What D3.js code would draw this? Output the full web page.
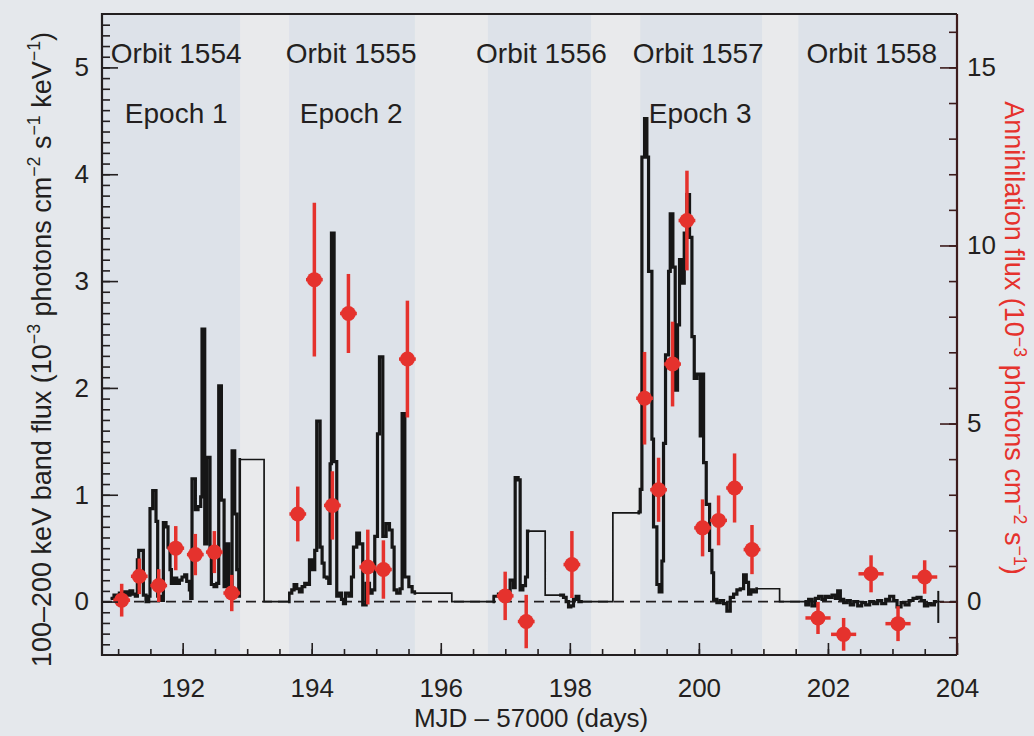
<!DOCTYPE html>
<html>
<head>
<meta charset="utf-8">
<script src="https://cdn.jsdelivr.net/npm/d3@7"></script>
<style>
  html, body { margin: 0; padding: 0; background: #e5e8ec; }
  svg { display: block; font-family: "Liberation Sans", Arial, Helvetica, sans-serif; }
</style>
</head>
<body>
<svg id="chart" width="1034" height="736"></svg>
<script>
// axis ranges and tick labels
const xDomain = [190.75, 204];
const yLeftDomain = [-0.5, 5.5];
const yRightDomain = [-1.5, 16.5];
const xTicks = [192, 194, 196, 198, 200, 202, 204];
const yLeftTicks = [0, 1, 2, 3, 4, 5];
const yRightTicks = [0, 5, 10, 15];

// orbits and epochs
const orbitNames = ['Orbit 1554', 'Orbit 1555', 'Orbit 1556', 'Orbit 1557', 'Orbit 1558'];
const orbitLabelDay = [191.9, 194.61, 197.56, 199.99, 202.68];
const orbitSpans = [[190.75, 192.89], [193.65, 195.60], [196.73, 198.33], [199.09, 200.98], [201.54, 204]];
const gapSpans = [[192.89, 193.65], [195.60, 196.73], [198.33, 199.09], [200.98, 201.54]];
const epochNames = ['Epoch 1', 'Epoch 2', 'Epoch 3'];
const epochDay = [191.9, 194.61, 200.02];

// 100-200 keV light curve, [MJD-57000, flux] step starts
const lightCurve = [
  [190.884,0.03],[190.936,0.06],[190.977,0.02],[191.019,0.08],[191.060,0.05],[191.101,0.09],[191.143,0.06],
  [191.184,0.10],[191.226,0.07],[191.267,0.05],[191.298,0.39],[191.319,0.48],[191.391,0.06],[191.432,0.00],
  [191.474,0.05],[191.494,0.87],[191.536,1.04],[191.587,0.75],[191.613,0.05],[191.660,0.01],[191.701,0.74],
  [191.742,0.70],[191.773,0.51],[191.804,0.30],[191.825,0.17],[191.866,0.22],[191.908,0.17],[191.949,0.20],
  [191.990,0.23],[192.032,0.25],[192.063,0.19],[192.104,0.11],[192.125,0.03],[192.145,1.15],[192.197,0.86],
  [192.238,0.89],[192.280,0.98],[192.300,2.55],[192.342,0.54],[192.373,1.35],[192.424,0.48],[192.445,0.16],
  [192.486,0.14],[192.528,0.17],[192.559,2.02],[192.600,0.95],[192.642,0.14],[192.673,0.54],[192.714,0.11],
  [192.766,1.41],[192.807,0.82],[192.838,0.30],[192.869,0.05],
  [192.890,1.33],[193.262,0.00],
  [193.649,0.08],[193.691,0.11],[193.727,0.16],[193.768,0.12],[193.809,0.09],[193.851,0.14],[193.892,0.17],
  [193.934,0.16],[193.965,0.39],[194.006,0.30],[194.047,0.48],[194.078,1.69],[194.130,0.51],[194.161,0.36],
  [194.192,0.23],[194.233,0.22],[194.264,0.17],[194.285,1.29],[194.306,3.45],[194.347,1.31],[194.388,0.05],
  [194.430,0.08],[194.461,0.02],[194.492,-0.02],[194.523,0.08],[194.575,0.05],[194.616,0.23],[194.647,0.51],
  [194.698,0.64],[194.740,0.54],[194.791,-0.03],[194.843,0.17],[194.895,0.08],[194.936,0.11],[194.977,0.61],
  [195.019,1.57],[195.050,2.29],[195.102,0.61],[195.153,0.73],[195.205,0.67],[195.246,0.51],[195.277,0.11],
  [195.318,0.08],[195.370,0.12],[195.401,1.76],[195.443,0.23],[195.505,0.14],[195.556,0.09],
  [195.603,0.08],[196.171,0.00],
  [196.817,0.05],[196.894,0.07],[196.998,0.10],[197.075,0.20],[197.127,0.13],[197.153,1.16],[197.199,1.14],
  [197.230,0.11],[197.272,0.15],[197.313,0.23],[197.344,0.66],
  [197.618,0.06],
  [197.850,0.06],[197.902,0.04],[197.943,0.00],[197.980,-0.05],[198.016,-0.04],[198.057,0.02],[198.098,0.05],
  [198.140,0.00],
  [198.186,0.00],[198.667,0.83],
  [199.065,0.84],[199.091,1.05],[199.117,4.16],[199.158,4.52],[199.194,4.16],[199.220,3.09],[199.272,1.52],
  [199.297,0.70],[199.349,0.16],[199.385,0.09],[199.427,0.38],[199.452,1.48],[199.483,2.31],[199.530,3.09],
  [199.556,3.63],[199.597,3.13],[199.633,1.98],[199.669,2.59],[199.700,3.20],[199.737,2.98],[199.773,3.45],
  [199.814,3.81],[199.855,3.41],[199.892,2.48],[199.928,2.09],[199.969,2.13],[200.021,1.55],[200.047,2.13],
  [200.073,1.30],[200.114,0.91],[200.166,0.48],[200.202,0.27],[200.228,0.02],[200.279,-0.01],[200.331,0.01],
  [200.383,-0.02],[200.434,-0.09],[200.486,0.04],[200.538,0.07],[200.589,0.11],[200.641,0.12],[200.693,0.25],
  [200.734,0.18],[200.770,0.07],[200.806,0.11],[200.848,0.09],
  [200.899,0.12],[201.251,0.00],
  [201.650,-0.03],[201.701,0.02],[201.753,-0.04],[201.805,0.03],[201.856,0.05],[201.908,0.02],[201.960,0.05],
  [202.011,0.04],[202.063,0.06],[202.115,0.03],[202.151,0.10],[202.192,0.02],[202.244,-0.01],[202.296,0.01],
  [202.347,-0.03],[202.399,0.00],[202.461,-0.04],[202.523,-0.01],[202.585,-0.03],[202.647,0.00],[202.709,-0.02],
  [202.771,0.01],[202.833,-0.02],[202.895,0.02],[202.957,0.05],[203.019,0.01],[203.071,-0.05],[203.133,-0.01],
  [203.195,-0.03],[203.257,0.01],[203.319,0.03],[203.381,0.04],[203.443,0.01],[203.495,-0.04],[203.546,-0.02],
  [203.598,-0.03],[203.650,0.00],[203.691,0.00]
];
// stretches with fine time bins (drawn heavier)
const denseSpans = [[190.884, 192.890], [193.649, 195.603], [196.817, 197.360], [197.850, 198.186], [199.065, 200.899], [201.650, 203.691]];
// typical light-curve error
const lcErrDay = 203.71;
const lcErrRange = [-0.2, 0.1];

// annihilation line flux (right axis)
const annDay = [191.055, 191.328, 191.629, 191.893, 192.196, 192.491, 192.761, 193.784, 194.041, 194.320,
  194.569, 194.869, 195.111, 195.483, 196.998, 197.324, 198.032, 199.158, 199.375, 199.592,
  199.815, 200.057, 200.305, 200.553, 200.823, 201.846, 202.243, 202.668, 203.086, 203.499];
const annFlux = [0.04, 0.71, 0.45, 1.50, 1.32, 1.39, 0.24, 2.46, 9.04, 2.70,
  8.09, 0.97, 0.90, 6.81, 0.16, -0.56, 1.04, 5.71, 3.14, 6.67,
  10.70, 2.07, 2.28, 3.19, 1.46, -0.46, -0.92, 0.78, -0.62, 0.69];
const annErr = [0.46, 0.50, 0.46, 0.62, 0.58, 0.59, 0.51, 0.77, 2.16, 0.96,
  1.11, 1.05, 0.82, 1.64, 0.68, 0.75, 0.94, 1.30, 0.90, 1.19,
  1.40, 0.80, 0.70, 0.97, 0.69, 0.45, 0.46, 0.52, 0.49, 0.47];
const annDayErr = [0.13, 0.13, 0.13, 0.13, 0.13, 0.13, 0.13, 0.13, 0.13, 0.13,
  0.13, 0.13, 0.13, 0.13, 0.13, 0.13, 0.13, 0.13, 0.13, 0.13,
  0.13, 0.13, 0.13, 0.13, 0.13, 0.195, 0.195, 0.195, 0.195, 0.195];

const red = '#e5322d';
const ink = '#231f20';
const plotL = 102, plotR = 957, plotT = 14, plotB = 655;

const svg = d3.select('#chart');
const x = d3.scaleLinear().domain(xDomain).range([plotL, plotR]);
const yL = d3.scaleLinear().domain(yLeftDomain).range([plotB, plotT]);
const yR = d3.scaleLinear().domain(yRightDomain).range([plotB, plotT]);

// orbit / gap bands
svg.append('g').selectAll('rect')
  .data(orbitSpans).join('rect')
  .attr('x', d => x(d[0])).attr('width', d => x(d[1]) - x(d[0]))
  .attr('y', plotT).attr('height', plotB - plotT)
  .attr('fill', '#dde2e9');
svg.append('g').selectAll('rect')
  .data(gapSpans).join('rect')
  .attr('x', d => x(d[0])).attr('width', d => x(d[1]) - x(d[0]))
  .attr('y', plotT).attr('height', plotB - plotT)
  .attr('fill', '#e9eaec');

// zero line
svg.append('line')
  .attr('x1', plotL).attr('x2', plotR)
  .attr('y1', yL(0)).attr('y2', yL(0))
  .attr('stroke', ink).attr('stroke-width', 1.6)
  .attr('stroke-dasharray', '10,6');

// light curve
const clip = svg.append('defs').append('clipPath').attr('id', 'dense');
clip.selectAll('rect').data(denseSpans).join('rect')
  .attr('x', d => x(d[0]) - 1).attr('width', d => x(d[1]) - x(d[0]) + 2)
  .attr('y', 0).attr('height', 736);

const line = d3.line()
  .x(d => x(d[0]))
  .y(d => yL(d[1]))
  .curve(d3.curveStepAfter);

svg.append('path')
  .attr('d', line(lightCurve))
  .attr('fill', 'none').attr('stroke', '#161616').attr('stroke-width', 1.7);
svg.append('path')
  .attr('d', line(lightCurve))
  .attr('clip-path', 'url(#dense)')
  .attr('fill', 'none').attr('stroke', '#161616').attr('stroke-width', 3.2)
  .attr('stroke-linejoin', 'miter');

svg.append('line')
  .attr('x1', x(lcErrDay)).attr('x2', x(lcErrDay))
  .attr('y1', yL(lcErrRange[0])).attr('y2', yL(lcErrRange[1]))
  .attr('stroke', '#161616').attr('stroke-width', 2);

// annihilation points
const pts = annDay.map((d, i) => ({ t: d, f: annFlux[i], e: annErr[i], te: annDayErr[i] }));
const pg = svg.append('g').selectAll('g').data(pts).join('g');
pg.append('line')
  .attr('x1', d => x(d.t)).attr('x2', d => x(d.t))
  .attr('y1', d => yR(d.f - d.e)).attr('y2', d => yR(d.f + d.e))
  .attr('stroke', red).attr('stroke-width', 3.5);
pg.append('line')
  .attr('x1', d => x(d.t - d.te)).attr('x2', d => x(d.t + d.te))
  .attr('y1', d => yR(d.f)).attr('y2', d => yR(d.f))
  .attr('stroke', red).attr('stroke-width', 3.5);
pg.append('circle')
  .attr('cx', d => x(d.t)).attr('cy', d => yR(d.f))
  .attr('r', 7.5).attr('fill', red);

// axes
const gL = svg.append('g').attr('transform', `translate(${plotL},0)`);
gL.call(d3.axisLeft(yL).tickValues(d3.range(-0.4, 5.45, 0.1)).tickSizeInner(-8).tickSizeOuter(0).tickFormat(''));
gL.select('.domain').remove();
const gL2 = svg.append('g').attr('transform', `translate(${plotL},0)`);
gL2.call(d3.axisLeft(yL).tickValues(yLeftTicks).tickSizeInner(-16).tickSizeOuter(0).tickPadding(13).tickFormat(d3.format('d')));
gL2.select('.domain').remove();

const gR = svg.append('g').attr('transform', `translate(${plotR},0)`);
gR.call(d3.axisRight(yR).tickValues(d3.range(-1, 17, 1)).tickSizeInner(-8).tickSizeOuter(0).tickFormat(''));
gR.select('.domain').remove();
const gR2 = svg.append('g').attr('transform', `translate(${plotR},0)`);
gR2.call(d3.axisRight(yR).tickValues(yRightTicks).tickSizeInner(-17).tickSizeOuter(0).tickPadding(10).tickFormat(d3.format('d')));
gR2.select('.domain').remove();
gR.selectAll('line').attr('stroke', '#3d1c1c').attr('stroke-width', 1.6);
gR2.selectAll('line').attr('stroke', '#3d1c1c').attr('stroke-width', 1.6);

const gB = svg.append('g').attr('transform', `translate(0,${plotB})`);
gB.call(d3.axisBottom(x).tickValues(d3.range(191, 204, 0.5)).tickSizeInner(-6).tickSizeOuter(0).tickFormat(''));
gB.select('.domain').remove();
const gB2 = svg.append('g').attr('transform', `translate(0,${plotB})`);
gB2.call(d3.axisBottom(x).tickValues(xTicks).tickSizeInner(-12).tickSizeOuter(0).tickPadding(24).tickFormat(d3.format('d')));
gB2.select('.domain').remove();

[gL, gL2, gB, gB2].forEach(g => g.selectAll('line').attr('stroke', ink).attr('stroke-width', 1.6));
[gL2, gR2, gB2].forEach(g => g.selectAll('text').attr('fill', ink).style('font-size', '26px'));

// frame
svg.append('path')
  .attr('d', `M${plotR},${plotT}H${plotL}V${plotB}H${plotR}`)
  .attr('fill', 'none').attr('stroke', ink).attr('stroke-width', 2.2);
svg.append('line')
  .attr('x1', plotR).attr('x2', plotR).attr('y1', plotT).attr('y2', plotB)
  .attr('stroke', '#3d1c1c').attr('stroke-width', 2.2);

// orbit and epoch labels
svg.append('g').selectAll('text')
  .data(orbitNames).join('text')
  .attr('x', (d, i) => x(orbitLabelDay[i])).attr('y', 63)
  .attr('text-anchor', 'middle').attr('fill', ink).style('font-size', '28px')
  .text(d => d);
svg.append('g').selectAll('text')
  .data(epochNames).join('text')
  .attr('x', (d, i) => x(epochDay[i])).attr('y', 123)
  .attr('text-anchor', 'middle').attr('fill', ink).style('font-size', '28px')
  .text(d => d);

// axis titles
const addTitle = (parts, attrs, shift) => {
  const t = svg.append('text');
  Object.entries(attrs).forEach(([k, v]) => t.attr(k, v));
  let up = false;
  parts.forEach(p => {
    const sup = p.startsWith('^');
    const s = t.append('tspan').text(sup ? p.slice(1) : p);
    if (sup && !up) { s.attr('dy', -shift).style('font-size', '0.66em'); up = true; }
    else if (sup) { s.style('font-size', '0.66em'); }
    else if (up) { s.attr('dy', shift); up = false; }
  });
  return t;
};

addTitle(['MJD – 57000 (days)'], {
  x: 531, y: 727, 'text-anchor': 'middle', fill: ink, 'font-size': 26
}, 0);
addTitle(['100–200 keV band flux (10', '^−3', ' photons cm', '^−2', ' s', '^−1', ' keV', '^−1', ')'], {
  transform: 'translate(51,667) rotate(-90)', 'text-anchor': 'start', fill: ink, 'font-size': 27
}, 11);
addTitle(['Annihilation flux (10', '^−3', ' photons cm', '^−2', ' s', '^−1', ')'], {
  transform: 'translate(1005,338) rotate(90)', 'text-anchor': 'middle', fill: red, 'font-size': 27
}, 9);
</script>
</body>
</html>
